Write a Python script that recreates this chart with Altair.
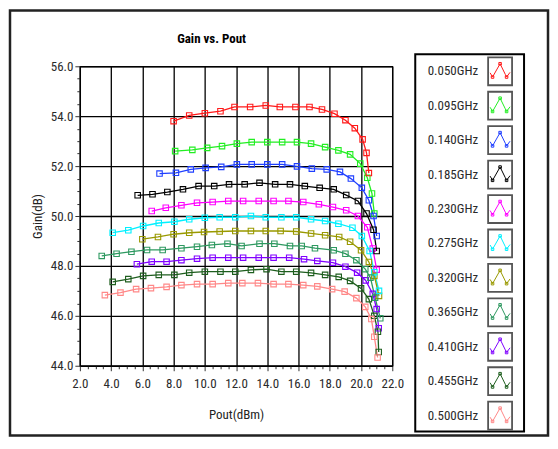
import altair as alt
import pandas as pd

TITLE = "Gain vs. Pout"
X_TITLE = "Pout(dBm)"
Y_TITLE = "Gain(dB)"

FREQS = ["0.050GHz", "0.095GHz", "0.140GHz", "0.185GHz", "0.230GHz", "0.275GHz",
         "0.320GHz", "0.365GHz", "0.410GHz", "0.455GHz", "0.500GHz"]
COLORS = ["#ff1a1a", "#22ee22", "#1f3fff", "#000000", "#ff00ff", "#00f0ff",
          "#999900", "#2e9960", "#8000ff", "#1e5e1e", "#ff8888"]

POUT_050 = [8.0, 9.0, 10.0, 11.0, 11.9, 12.9, 13.9, 14.8, 15.8, 16.7, 17.5, 18.3, 19.0, 19.6, 20.1, 20.35, 20.5]
GAIN_050 = [53.8, 54.03, 54.12, 54.2, 54.37, 54.37, 54.43, 54.37, 54.37, 54.37, 54.27, 54.1, 53.84, 53.52, 53.07, 52.53, 51.72]

POUT_095 = [8.1, 9.2, 10.15, 11.1, 12.05, 13.0, 14.0, 14.95, 15.9, 16.8, 17.7, 18.55, 19.3, 19.95, 20.4, 20.7, 20.85]
GAIN_095 = [52.6, 52.65, 52.73, 52.8, 52.9, 52.96, 52.96, 52.96, 52.96, 52.9, 52.76, 52.63, 52.47, 52.1, 51.53, 50.9, 50.1]

POUT_140 = [7.1, 8.15, 9.1, 10.05, 11.05, 12.05, 13.0, 14.0, 14.95, 15.9, 16.85, 17.8, 18.65, 19.35, 20.05, 20.5, 20.8, 21.0]
GAIN_140 = [51.7, 51.73, 51.87, 51.93, 51.97, 52.07, 52.07, 52.07, 52.07, 51.99, 51.9, 51.87, 51.77, 51.5, 51.13, 50.63, 50.0, 49.2]

POUT_185 = [5.7, 6.65, 7.6, 8.6, 9.6, 10.6, 11.55, 12.55, 13.5, 14.5, 15.45, 16.4, 17.35, 18.25, 19.05, 19.8, 20.35, 20.8, 21.0]
GAIN_185 = [50.83, 50.87, 50.96, 51.07, 51.2, 51.2, 51.27, 51.27, 51.33, 51.27, 51.27, 51.2, 51.13, 51.07, 50.84, 50.6, 50.1, 49.45, 48.6]

POUT_230 = [6.6, 7.5, 8.5, 9.5, 10.5, 11.5, 12.45, 13.45, 14.4, 15.35, 16.3, 17.3, 18.2, 19.05, 19.8, 20.4, 20.75, 21.0]
GAIN_230 = [50.2, 50.33, 50.43, 50.53, 50.56, 50.6, 50.6, 50.6, 50.6, 50.6, 50.56, 50.47, 50.36, 50.23, 50.0, 49.55, 48.7, 47.85]

POUT_275 = [4.1, 5.1, 6.05, 7.05, 8.05, 9.0, 10.0, 10.95, 11.95, 12.95, 13.9, 14.9, 15.85, 16.8, 17.7, 18.55, 19.45, 20.05, 20.55, 20.85, 21.15]
GAIN_275 = [49.33, 49.43, 49.6, 49.72, 49.77, 49.87, 49.93, 49.95, 49.95, 50.0, 49.95, 49.95, 49.95, 49.87, 49.8, 49.69, 49.53, 49.2, 48.6, 47.75, 47.0]

POUT_320 = [6.0, 7.0, 8.0, 9.0, 9.95, 10.95, 11.95, 12.95, 13.9, 14.85, 15.85, 16.8, 17.7, 18.6, 19.3, 20.0, 20.5, 20.85, 21.15]
GAIN_320 = [49.07, 49.16, 49.27, 49.33, 49.36, 49.38, 49.4, 49.4, 49.4, 49.4, 49.38, 49.3, 49.23, 49.16, 48.97, 48.63, 48.16, 47.6, 46.8]

POUT_365 = [3.4, 4.35, 5.3, 6.3, 7.3, 8.5, 9.5, 10.45, 11.45, 12.35, 13.5, 14.45, 15.45, 16.2, 17.05, 18.25, 19.0, 19.7, 20.27, 20.6, 20.9, 21.23]
GAIN_365 = [48.4, 48.49, 48.57, 48.64, 48.64, 48.71, 48.77, 48.84, 48.89, 48.8, 48.89, 48.89, 48.8, 48.8, 48.71, 48.63, 48.49, 48.23, 47.87, 47.53, 46.73, 45.9]

POUT_410 = [5.65, 6.6, 7.55, 8.5, 9.5, 10.5, 11.5, 12.45, 13.45, 14.4, 15.4, 16.35, 17.2, 18.2, 19.0, 19.75, 20.3, 20.75, 21.0, 21.13]
GAIN_410 = [48.07, 48.17, 48.17, 48.23, 48.29, 48.33, 48.33, 48.33, 48.33, 48.33, 48.33, 48.27, 48.2, 48.13, 47.97, 47.73, 47.42, 46.88, 46.27, 45.5]

POUT_455 = [4.1, 5.1, 6.05, 7.05, 8.05, 9.0, 10.0, 11.0, 11.95, 12.95, 13.95, 14.9, 15.85, 16.8, 17.7, 18.57, 19.3, 20.0, 20.5, 20.85, 21.08, 21.13]
GAIN_455 = [47.36, 47.47, 47.6, 47.64, 47.64, 47.73, 47.77, 47.77, 47.77, 47.84, 47.87, 47.77, 47.77, 47.72, 47.64, 47.56, 47.4, 47.1, 46.67, 46.0, 45.36, 44.55]

POUT_500 = [3.6, 4.6, 5.6, 6.55, 7.55, 8.5, 9.5, 10.5, 11.5, 12.4, 13.4, 14.4, 15.35, 16.3, 17.2, 18.15, 18.95, 19.7, 20.27, 20.66, 20.85, 21.06]
GAIN_500 = [46.83, 46.93, 47.07, 47.11, 47.16, 47.23, 47.27, 47.27, 47.31, 47.31, 47.31, 47.27, 47.27, 47.23, 47.18, 47.07, 46.97, 46.71, 46.36, 45.87, 45.16, 44.33]

POUTS = [POUT_050, POUT_095, POUT_140, POUT_185, POUT_230, POUT_275,
         POUT_320, POUT_365, POUT_410, POUT_455, POUT_500]
GAINS = [GAIN_050, GAIN_095, GAIN_140, GAIN_185, GAIN_230, GAIN_275,
         GAIN_320, GAIN_365, GAIN_410, GAIN_455, GAIN_500]

X_TICKS = [2 + 0.5 * i for i in range(41)]
Y_TICKS = [44 + 0.5 * i for i in range(25)]

rows = []
for f, xs, ys in zip(FREQS, POUTS, GAINS):
    for i, (x, y) in enumerate(zip(xs, ys)):
        rows.append({"freq": f, "pout": x, "gain": y, "idx": i})
df = pd.DataFrame(rows)
leg_df = pd.DataFrame({"freq": FREQS})
one = pd.DataFrame({"k": [0]})

FONT = "Liberation Sans Narrow, Roboto Condensed, Roboto, Liberation Sans, Arial"
MAJOR = "abs(datum.value % 2) < 0.01"

def axis(title, orient):
    common = dict(
        values=X_TICKS if orient == "bottom" else Y_TICKS,
        labelExpr=f"{MAJOR} ? format(datum.value, '.1f') : ''",
        labelOverlap=False,
        labelFlush=False,
        labelFont=FONT,
        labelFontSize=13,
        labelColor="#2a2a2a",
        grid=True,
        gridColor="black",
        gridWidth=1.3,
        gridOpacity={"condition": {"test": MAJOR, "value": 1}, "value": 0},
        tickColor="#333333",
        tickSize={"condition": {"test": MAJOR, "value": 5}, "value": 3},
        domainColor="black",
        title=title,
        titleFont=FONT,
        titleFontSize=13,
        titleFontWeight="normal",
        titleColor="#222222",
    )
    if orient == "bottom":
        common.update(labelPadding=7, titlePadding=18)
    else:
        common.update(labelPadding=2, titlePadding=6)
    return alt.Axis(**common)

color = alt.Color("freq:N", scale=alt.Scale(domain=FREQS, range=COLORS), legend=None)

base = alt.Chart(df).encode(
    x=alt.X("pout:Q", scale=alt.Scale(domain=[2, 22], nice=False, zero=False), axis=axis(X_TITLE, "bottom")),
    y=alt.Y("gain:Q", scale=alt.Scale(domain=[44, 56], nice=False, zero=False), axis=axis(Y_TITLE, "left")),
    color=color,
    order="idx:Q",
)
lines = base.mark_line(strokeWidth=1.3)
points = base.mark_point(shape="square", filled=False, size=30, strokeWidth=1.1, opacity=1)
main = alt.layer(lines, points)

frame = alt.Chart(one).mark_rect(fill=None, stroke="#222222", strokeWidth=2.5).encode(
    x=alt.value(-70), x2=alt.value(469), y=alt.value(-56), y2=alt.value(370))
legbox = alt.Chart(one).mark_rect(fill="white", stroke="black", strokeWidth=2).encode(
    x=alt.value(336), x2=alt.value(445), y=alt.value(-12), y2=alt.value(366))
title = alt.Chart(one).mark_text(text=TITLE, font=FONT, fontSize=13, fontWeight="bold",
                                 align="center", baseline="middle", color="black").encode(
    x=alt.value(132), y=alt.value(-27))

leg_y = alt.Y("freq:N", scale=alt.Scale(type="point", domain=FREQS, range=[5, 350], padding=0), axis=None)
leg_text = alt.Chart(leg_df).mark_text(font=FONT, fontSize=13, align="right", baseline="middle",
                                       color="#2a2a2a").encode(
    x=alt.value(399), y=leg_y, text="freq:N")
ICON_BOX = "M-0.857,-1 L0.857,-1 L0.857,1 L-0.857,1 Z"
leg_box = alt.Chart(leg_df).mark_point(shape=ICON_BOX, size=784, filled=False, stroke="#555555",
                                       strokeWidth=1.8, opacity=1).encode(
    x=alt.value(421), y=leg_y)
ICON = ("M-0.95,0.15 L-0.72,0.55 L0,-0.72 L0.5,0.3 L0.62,0.55 L0.95,0.1 "
        "M-0.84,0.43 L-0.6,0.43 L-0.6,0.67 L-0.84,0.67 Z "
        "M-0.12,-0.84 L0.12,-0.84 L0.12,-0.6 L-0.12,-0.6 Z "
        "M0.5,0.43 L0.74,0.43 L0.74,0.67 L0.5,0.67 Z")
leg_icon = alt.Chart(leg_df).mark_point(shape=ICON, size=440, filled=False, strokeWidth=1,
                                        opacity=1).encode(
    x=alt.value(421), y=leg_y, color=color)
legend = alt.layer(leg_text, leg_box, leg_icon)

chart = alt.layer(
    frame, legbox, title, main, legend
).resolve_scale(y="independent").properties(
    width=313, height=300, padding=0, background="white"
).configure_view(stroke="black", strokeWidth=1.2)

chart.save("out.html", embed_options={"renderer": "svg", "actions": False})
